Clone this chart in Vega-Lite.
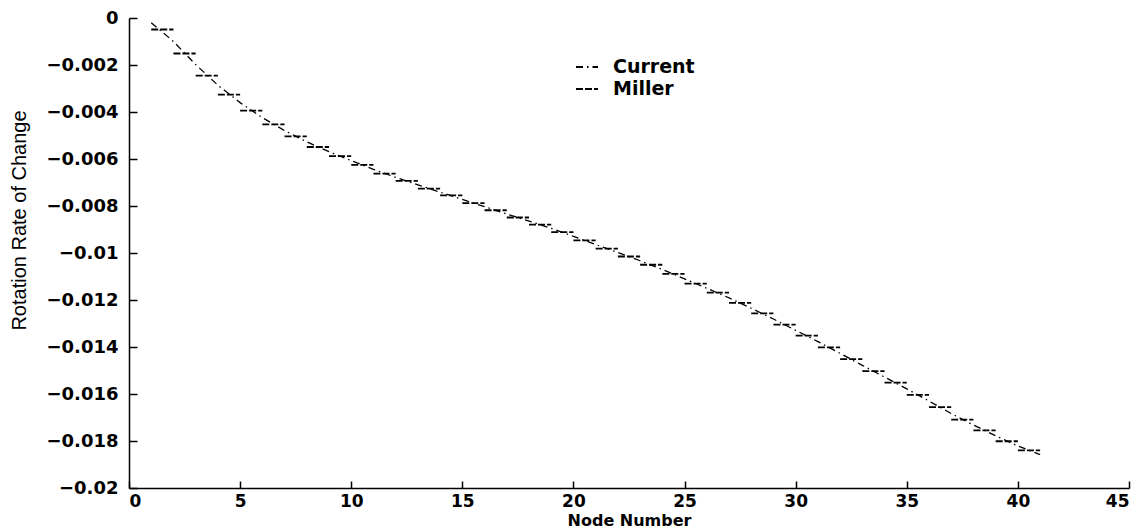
{
  "$schema": "https://vega.github.io/schema/vega-lite/v6.json",
  "width": 1000,
  "height": 470,
  "autosize": {"type": "none"},
  "padding": {"left": 129, "top": 18, "right": 18, "bottom": 41},
  "background": "white",
  "config": {
    "view": {"stroke": null},
    "axis": {
      "domainColor": "black",
      "domainWidth": 1.5,
      "tickColor": "black",
      "tickWidth": 1.5,
      "grid": false,
      "labelFont": "DejaVu Sans",
      "labelFontWeight": "bold",
      "labelFontSize": 18,
      "labelColor": "black",
      "titleColor": "black"
    }
  },
  "data": {
    "values": [
      {"series": "Current", "node": 1, "value": -0.0002},
      {"series": "Current", "node": 2, "value": -0.0010},
      {"series": "Current", "node": 3, "value": -0.00198},
      {"series": "Current", "node": 4, "value": -0.00286},
      {"series": "Current", "node": 5, "value": -0.00360},
      {"series": "Current", "node": 6, "value": -0.00424},
      {"series": "Current", "node": 7, "value": -0.00479},
      {"series": "Current", "node": 8, "value": -0.00527},
      {"series": "Current", "node": 9, "value": -0.00569},
      {"series": "Current", "node": 10, "value": -0.00607},
      {"series": "Current", "node": 11, "value": -0.00644},
      {"series": "Current", "node": 12, "value": -0.00678},
      {"series": "Current", "node": 13, "value": -0.00710},
      {"series": "Current", "node": 14, "value": -0.00741},
      {"series": "Current", "node": 15, "value": -0.00772},
      {"series": "Current", "node": 16, "value": -0.00803},
      {"series": "Current", "node": 17, "value": -0.00834},
      {"series": "Current", "node": 18, "value": -0.00864},
      {"series": "Current", "node": 19, "value": -0.00895},
      {"series": "Current", "node": 20, "value": -0.00929},
      {"series": "Current", "node": 21, "value": -0.00964},
      {"series": "Current", "node": 22, "value": -0.00998},
      {"series": "Current", "node": 23, "value": -0.01033},
      {"series": "Current", "node": 24, "value": -0.01070},
      {"series": "Current", "node": 25, "value": -0.01110},
      {"series": "Current", "node": 26, "value": -0.01150},
      {"series": "Current", "node": 27, "value": -0.01191},
      {"series": "Current", "node": 28, "value": -0.01235},
      {"series": "Current", "node": 29, "value": -0.01281},
      {"series": "Current", "node": 30, "value": -0.01329},
      {"series": "Current", "node": 31, "value": -0.01377},
      {"series": "Current", "node": 32, "value": -0.01427},
      {"series": "Current", "node": 33, "value": -0.01478},
      {"series": "Current", "node": 34, "value": -0.01528},
      {"series": "Current", "node": 35, "value": -0.01578},
      {"series": "Current", "node": 36, "value": -0.01630},
      {"series": "Current", "node": 37, "value": -0.01683},
      {"series": "Current", "node": 38, "value": -0.01732},
      {"series": "Current", "node": 39, "value": -0.01778},
      {"series": "Current", "node": 40, "value": -0.01821},
      {"series": "Current", "node": 41, "value": -0.01858},
      {"series": "Miller", "node": 1, "node2": 2, "value": -0.00049},
      {"series": "Miller", "node": 2, "node2": 3, "value": -0.00151},
      {"series": "Miller", "node": 3, "node2": 4, "value": -0.00245},
      {"series": "Miller", "node": 4, "node2": 5, "value": -0.00326},
      {"series": "Miller", "node": 5, "node2": 6, "value": -0.00394},
      {"series": "Miller", "node": 6, "node2": 7, "value": -0.00453},
      {"series": "Miller", "node": 7, "node2": 8, "value": -0.00504},
      {"series": "Miller", "node": 8, "node2": 9, "value": -0.00549},
      {"series": "Miller", "node": 9, "node2": 10, "value": -0.00588},
      {"series": "Miller", "node": 10, "node2": 11, "value": -0.00625},
      {"series": "Miller", "node": 11, "node2": 12, "value": -0.00662},
      {"series": "Miller", "node": 12, "node2": 13, "value": -0.00693},
      {"series": "Miller", "node": 13, "node2": 14, "value": -0.00726},
      {"series": "Miller", "node": 14, "node2": 15, "value": -0.00755},
      {"series": "Miller", "node": 15, "node2": 16, "value": -0.00788},
      {"series": "Miller", "node": 16, "node2": 17, "value": -0.00818},
      {"series": "Miller", "node": 17, "node2": 18, "value": -0.00849},
      {"series": "Miller", "node": 18, "node2": 19, "value": -0.00879},
      {"series": "Miller", "node": 19, "node2": 20, "value": -0.00911},
      {"series": "Miller", "node": 20, "node2": 21, "value": -0.00946},
      {"series": "Miller", "node": 21, "node2": 22, "value": -0.00981},
      {"series": "Miller", "node": 22, "node2": 23, "value": -0.01015},
      {"series": "Miller", "node": 23, "node2": 24, "value": -0.01050},
      {"series": "Miller", "node": 24, "node2": 25, "value": -0.01089},
      {"series": "Miller", "node": 25, "node2": 26, "value": -0.01130},
      {"series": "Miller", "node": 26, "node2": 27, "value": -0.01169},
      {"series": "Miller", "node": 27, "node2": 28, "value": -0.01212},
      {"series": "Miller", "node": 28, "node2": 29, "value": -0.01257},
      {"series": "Miller", "node": 29, "node2": 30, "value": -0.01305},
      {"series": "Miller", "node": 30, "node2": 31, "value": -0.01352},
      {"series": "Miller", "node": 31, "node2": 32, "value": -0.01402},
      {"series": "Miller", "node": 32, "node2": 33, "value": -0.01452},
      {"series": "Miller", "node": 33, "node2": 34, "value": -0.01503},
      {"series": "Miller", "node": 34, "node2": 35, "value": -0.01552},
      {"series": "Miller", "node": 35, "node2": 36, "value": -0.01604},
      {"series": "Miller", "node": 36, "node2": 37, "value": -0.01656},
      {"series": "Miller", "node": 37, "node2": 38, "value": -0.01709},
      {"series": "Miller", "node": 38, "node2": 39, "value": -0.01755},
      {"series": "Miller", "node": 39, "node2": 40, "value": -0.01801},
      {"series": "Miller", "node": 40, "node2": 41, "value": -0.01840}
    ]
  },
  "resolve": {"axis": {"x": "independent", "y": "independent"}},
  "layer": [
    {
      "transform": [{"filter": "datum.series === 'Miller'"}],
      "mark": {"type": "rule", "color": "black", "strokeWidth": 1.8},
      "encoding": {
        "x": {
          "field": "node",
          "type": "quantitative",
          "scale": {"domain": [0, 45], "nice": false, "zero": false},
          "axis": {
            "values": [0, 5, 10, 15, 20, 25, 30, 35, 40, 45],
            "ticks": false,
            "labelPadding": 5,
            "labelFontSize": 17,
            "title": "Node Number",
            "titleFont": "DejaVu Sans",
            "titleFontWeight": "bold",
            "titleFontSize": 16,
            "titleY": 32,
            "titleBaseline": "middle"
          }
        },
        "x2": {"field": "node2"},
        "y": {
          "field": "value",
          "type": "quantitative",
          "scale": {"domain": [-0.02, 0], "nice": false, "zero": false},
          "axis": {
            "values": [0, -0.002, -0.004, -0.006, -0.008, -0.01, -0.012, -0.014, -0.016, -0.018, -0.02],
            "format": "~g",
            "ticks": false,
            "labelPadding": 11,
            "title": "Rotation Rate of Change",
            "titleFont": "Liberation Sans",
            "titleFontWeight": "normal",
            "titleFontSize": 20,
            "titleX": -100,
            "titleY": 202,
            "titleBaseline": "bottom"
          }
        },
        "strokeDash": {
          "field": "series",
          "type": "nominal",
          "scale": {"domain": ["Current", "Miller"], "range": [[7, 4, 1.5, 4], [7, 2]]},
          "legend": {
            "title": null,
            "orient": "none",
            "legendX": 446,
            "legendY": 37,
            "symbolType": "stroke",
            "symbolSize": 484,
            "symbolStrokeColor": "black",
            "symbolStrokeWidth": 1.8,
            "labelFont": "DejaVu Sans",
            "labelFontWeight": "bold",
            "labelFontSize": 19,
            "labelColor": "black",
            "labelOffset": 14,
            "rowPadding": 0
          }
        }
      }
    },
    {
      "transform": [{"filter": "datum.series === 'Current'"}],
      "mark": {"type": "line", "color": "black", "strokeWidth": 1.3},
      "encoding": {
        "x": {
          "field": "node",
          "type": "quantitative",
          "scale": {"domain": [0, 45], "nice": false, "zero": false},
          "axis": {
            "orient": "top",
            "offset": -470,
            "values": [0, 5, 10, 15, 20, 25, 30, 35, 40, 45],
            "domain": false,
            "labels": false,
            "ticks": true,
            "tickSize": 7,
            "title": null
          }
        },
        "y": {
          "field": "value",
          "type": "quantitative",
          "scale": {"domain": [-0.02, 0], "nice": false, "zero": false},
          "axis": {
            "orient": "right",
            "offset": -1000,
            "values": [0, -0.002, -0.004, -0.006, -0.008, -0.01, -0.012, -0.014, -0.016, -0.018, -0.02],
            "domain": false,
            "labels": false,
            "ticks": true,
            "tickSize": 8,
            "title": null
          }
        },
        "strokeDash": {"field": "series", "type": "nominal"}
      }
    }
  ]
}
